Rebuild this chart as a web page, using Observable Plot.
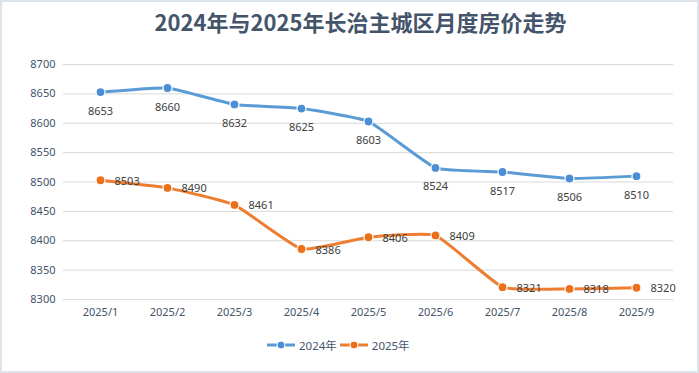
<!DOCTYPE html>
<html>
<head>
<meta charset="utf-8">
<script src="https://cdn.jsdelivr.net/npm/d3@7"></script>
<script src="https://cdn.jsdelivr.net/npm/@observablehq/plot@0.6"></script>
<style>
  html, body { margin: 0; padding: 0; background: #fff; }
  #wrap { position: relative; width: 699px; height: 373px; overflow: hidden; background: #fff;
          font-family: "Noto Sans", "Noto Sans CJK SC", sans-serif; }
  #border { position: absolute; left: 0; top: 0; width: 699px; height: 373px; box-sizing: border-box;
            border: 2px solid #dde3ea; pointer-events: none; }
  #title { position: absolute; left: 22px; top: 6px; width: 677px; text-align: center;
           font-family: "Noto Sans CJK SC", sans-serif; font-weight: bold; font-size: 22px;
           color: #44546a; line-height: 30px; }
  #chart { position: absolute; left: 0; top: 50px; }
  #legend { position: absolute; left: 266px; top: 335px; height: 20px; display: flex;
            align-items: center; font-size: 11.5px; color: #44546a; }
  .item { display: flex; align-items: center; gap: 3px; margin-right: 2px; }
</style>
</head>
<body>
<div id="wrap">
  <div id="title">2024年与2025年长治主城区月度房价走势</div>
  <div id="chart"></div>
  <div id="legend"></div>
  <div id="border"></div>
</div>
<script>
const months = ["2025/1", "2025/2", "2025/3", "2025/4", "2025/5", "2025/6", "2025/7", "2025/8", "2025/9"];
const s2024 = [8653, 8660, 8632, 8625, 8603, 8524, 8517, 8506, 8510];
const s2025 = [8503, 8490, 8461, 8386, 8406, 8409, 8321, 8318, 8320];
const seriesNames = ["2024年", "2025年"];
const seriesColors = ["#5b9bd5", "#ed7d31"];
const markerColors = ["#4a8fd6", "#ec6f1a"];
const yTicks = [8300, 8350, 8400, 8450, 8500, 8550, 8600, 8650, 8700];

const d24 = months.map((m, i) => ({month: m, value: s2024[i], series: seriesNames[0]}));
const d25 = months.map((m, i) => ({month: m, value: s2025[i], series: seriesNames[1]}));

const fontSize = 11;
const plot = Plot.plot({
  width: 699,
  height: 280,
  marginLeft: 63,
  marginRight: 26,
  marginTop: 14,
  marginBottom: 31,
  style: {fontFamily: '"Noto Sans", "Noto Sans CJK SC", sans-serif', fontSize: fontSize + "px", color: "#44546a", background: "transparent"},
  x: {type: "point", domain: months, padding: 0.5, label: null},
  y: {domain: [8300, 8700], label: null},
  marks: [
    Plot.ruleY(yTicks, {stroke: "#d9d9d9", strokeWidth: 1}),
    Plot.axisY({ticks: yTicks, tickSize: 0, tickPadding: 8, tickFormat: d => String(d), fill: "#44546a", label: null}),
    Plot.axisX({tickSize: 0, tickPadding: 9, fill: "#44546a", label: null}),
    Plot.line(d24, {x: "month", y: "value", stroke: seriesColors[0], strokeWidth: 3, curve: "cardinal", tension: 0.6}),
    Plot.line(d25, {x: "month", y: "value", stroke: seriesColors[1], strokeWidth: 3, curve: "cardinal", tension: 0.6}),
    Plot.dot(d24, {x: "month", y: "value", r: 4.5, fill: markerColors[0], stroke: "#fff", strokeWidth: 1.2}),
    Plot.dot(d25, {x: "month", y: "value", r: 4.5, fill: markerColors[1], stroke: "#fff", strokeWidth: 1.2}),
    Plot.text(d24, {x: "month", y: "value", text: d => String(d.value), dy: 19, fill: "#404040", fontSize: fontSize}),
    Plot.text(d25, {x: "month", y: "value", text: d => String(d.value), dx: 14, dy: 1, textAnchor: "start", fill: "#404040", fontSize: fontSize})
  ]
});
document.getElementById("chart").appendChild(plot);

const legend = document.getElementById("legend");
seriesNames.forEach((name, i) => {
  const item = document.createElement("div");
  item.className = "item";
  item.innerHTML = `<svg width="30" height="12"><line x1="1" y1="6" x2="29" y2="6" stroke="${seriesColors[i]}" stroke-width="3"/><circle cx="15" cy="6" r="4" fill="${markerColors[i]}" stroke="#fff" stroke-width="1"/></svg><span>${name}</span>`;
  legend.appendChild(item);
});
</script>
</body>
</html>
